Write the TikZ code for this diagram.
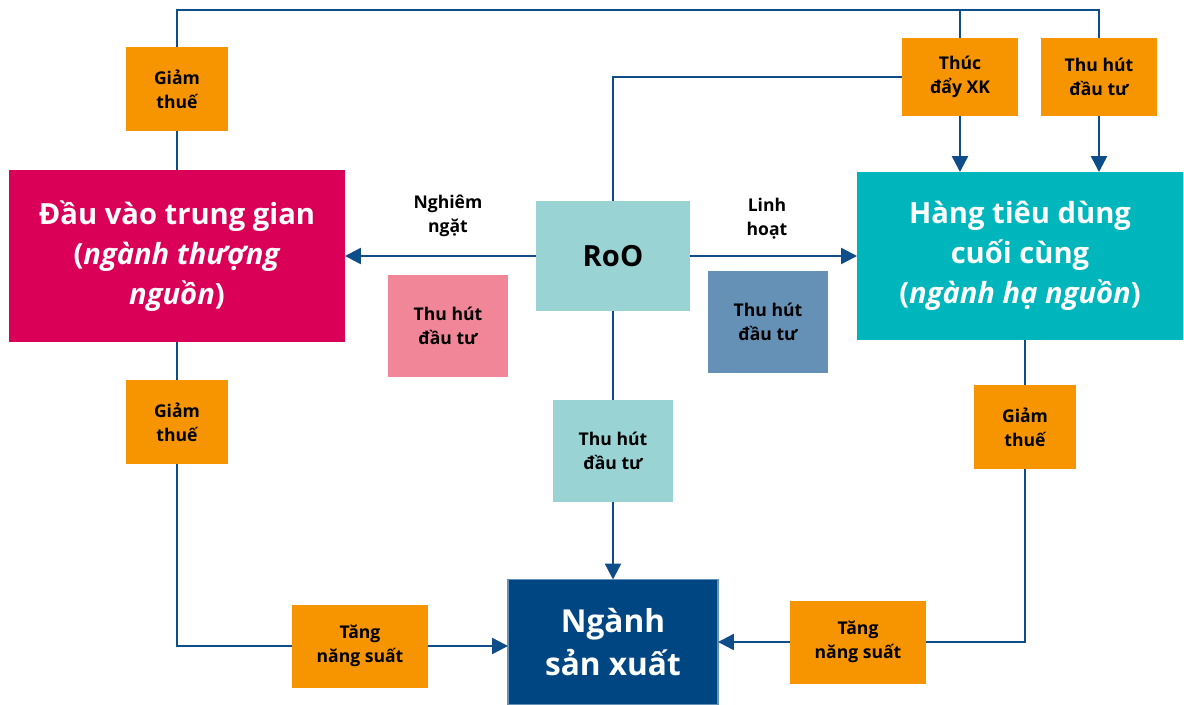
\documentclass[tikz,border=0pt]{standalone}
\usepackage{fontspec}
\setmainfont{Open Sans}
\usetikzlibrary{arrows.meta,positioning}

\definecolor{upstream}{RGB}{218,0,88}
\definecolor{downstream}{RGB}{0,182,189}
\definecolor{roofill}{RGB}{153,211,212}
\definecolor{pinkbox}{RGB}{240,134,151}
\definecolor{steelbox}{RGB}{102,145,182}
\definecolor{orangebox}{RGB}{247,149,0}
\definecolor{navybox}{RGB}{0,70,130}
\definecolor{linkblue}{RGB}{14,76,138}

\begin{document}
\begin{tikzpicture}[x=0.02cm,y=-0.02cm]
\tikzstyle{box}=[rectangle, inner sep=0pt, outer sep=0pt, align=center, font=\bfseries\fontsize{10}{13.6}\selectfont]
\tikzstyle{tax}=[box, fill=orangebox, minimum width=2.06cm, minimum height=1.68cm]
\tikzstyle{push}=[box, fill=orangebox, minimum width=2.32cm, minimum height=1.56cm]
\tikzstyle{gain}=[box, fill=orangebox, minimum width=2.72cm, minimum height=1.66cm]
\tikzstyle{invest}=[box, minimum width=2.4cm, minimum height=2.04cm]
\tikzstyle{big}=[box, text=white, font=\bfseries\fontsize{16.6}{22.7}\selectfont]
\tikzstyle{lbl}=[align=center, inner sep=0pt, font=\bfseries\fontsize{10}{13.6}\selectfont]
\tikzstyle{link}=[draw=linkblue, line width=1.4pt]
\tikzstyle{connect}=[link, -{Triangle[length=0.32cm,width=0.32cm]}]

\useasboundingbox (0,0) rectangle (1184,704);

  % main sectors
  \node[big, fill=upstream, minimum width=6.72cm, minimum height=3.46cm] (dvtg) at (177,256)
    {Đầu vào trung gian\\(\textit{ngành thượng}\\\textit{nguồn})};
  \node[big, fill=downstream, minimum width=6.52cm, minimum height=3.36cm] (htdcc) at (1020,256)
    {Hàng tiêu dùng\\cuối cùng\\(\textit{ngành hạ nguồn})};
  \node[big, fill=roofill, text=black, minimum width=3.08cm, minimum height=2.2cm] (roo) at (613,256) {RoO};
  \node[big, fill=navybox, draw=steelbox, line width=0.8pt, font=\bfseries\fontsize{18}{24.4}\selectfont,
        minimum width=4.2cm, minimum height=2.5cm] (nsx) at (613,642) {Ngành\\sản xuất};

  % effects
  \node[tax] (gt1) at (177,89)  {Giảm\\thuế};
  \node[tax] (gt2) at (177,422) {Giảm\\thuế};
  \node[tax] (gt3) at (1025,427) {Giảm\\thuế};
  \node[push] (xk)   at (960,77)  {Thúc\\đẩy XK};
  \node[push] (thut) at (1099,77) {Thu hút\\đầu tư};
  \node[invest, fill=pinkbox]  (ttpink)  at (448,326) {Thu hút\\đầu tư};
  \node[invest, fill=steelbox] (ttsteel) at (768,322) {Thu hút\\đầu tư};
  \node[invest, fill=roofill]  (ttroo)   at (613,451) {Thu hút\\đầu tư};
  \node[gain] (tang1) at (360,646) {Tăng\\năng suất};
  \node[gain] (tang2) at (858,642) {Tăng\\năng suất};

  \node[lbl] (strict) at (448,216) {Nghiêm\\ngặt};
  \node[lbl] (flex)   at (767,219) {Linh\\hoạt};

  \coordinate (top) at (177,10);

  % connectors
  \draw[link] (dvtg.north) -- (gt1.south);
  \draw[link] (gt1.north) -- (top) -| (thut.north);
  \draw[link] (xk.north |- top) -- (xk.north);
  \draw[link] (xk.west) -| (roo.north);
  \draw[connect] (xk.south) -- (xk.south |- htdcc.north);
  \draw[connect] (thut.south) -- (thut.south |- htdcc.north);
  \draw[connect] (roo.west) -- (dvtg.east);
  \draw[connect] (roo.east) -- (htdcc.west);
  \draw[link] (roo.south) -- (ttroo.north);
  \draw[connect] (ttroo.south) -- (nsx.north);
  \draw[link] (dvtg.south) -- (gt2.north);
  \draw[link] (gt2.south) |- (tang1.west);
  \draw[connect] (tang1.east) -- (tang1.east -| nsx.west);
  \draw[link] (gt3.north |- htdcc.south) -- (gt3.north);
  \draw[link] (gt3.south) |- (tang2.east);
  \draw[connect] (tang2.west) -- (tang2.west -| nsx.east);

\end{tikzpicture}
\end{document}
